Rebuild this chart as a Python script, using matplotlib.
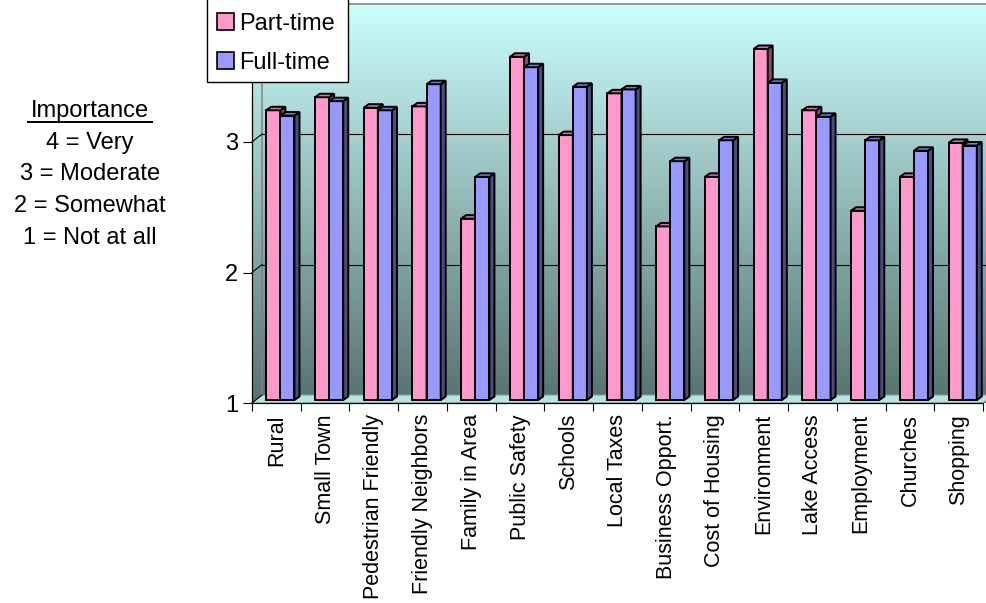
import numpy as np
import matplotlib
matplotlib.use("Agg")
import matplotlib.pyplot as plt
from matplotlib.patches import Polygon, Rectangle
from matplotlib.lines import Line2D
from matplotlib.colors import LinearSegmentedColormap

plt.rcParams['font.family'] = ['Liberation Sans', 'DejaVu Sans']

# ---- data -------------------------------------------------------------
categories = ["Rural", "Small Town", "Pedestrian Friendly", "Friendly Neighbors",
              "Family in Area", "Public Safety", "Schools", "Local Taxes",
              "Business Opport.", "Cost of Housing", "Environment", "Lake Access",
              "Employment", "Churches", "Shopping"]
part_time = [3.22, 3.32, 3.24, 3.25, 2.39, 3.63, 3.03, 3.35,
             2.33, 2.71, 3.69, 3.22, 2.45, 2.71, 2.97]
full_time = [3.18, 3.29, 3.22, 3.42, 2.71, 3.55, 3.40, 3.38,
             2.83, 2.99, 3.43, 3.17, 2.99, 2.91, 2.95]
series_names = ["Part-time", "Full-time"]
y_ticks = [1, 2, 3]
key_title = "Importance"
key_lines = ["4 = Very", "3 = Moderate", "2 = Somewhat", "1 = Not at all"]

# ---- figure / helpers (pixel layout) ---------------------------------
W, H, DPI = 986, 603, 100
fig = plt.figure(figsize=(W / DPI, H / DPI), dpi=DPI)
fig.patch.set_facecolor("white")


def fx(px):
    return px / W


def fy(py):
    return 1 - py / H


# front plane of the 3-D box, in pixels
L, R, B, T = 252, 983, 403, 11.5
ax = fig.add_axes([fx(L), fy(B), (R - L) / W, (B - T) / H])
n = len(categories)
ymin, ymax = 1, 4
ux = (R - L) / n              # pixels per category
uy = (B - T) / (ymax - ymin)  # pixels per value unit


def dx(px):
    return px / ux


def dy(px):
    return px / uy


WALL = (10, 8)     # depth of back wall
MID = (4, 3)       # bar front face offset from front plane
BAR_D = (5, 3.5)   # depth of each bar

wx, wy = dx(WALL[0]), dy(WALL[1])

# ---- back / side walls with gradient ---------------------------------
grad = np.linspace(0, 1, 256)[:, None]
cmap = LinearSegmentedColormap.from_list("wall", ["#CCFFFF", "#577270"])
im = ax.imshow(grad, cmap=cmap, aspect="auto", origin="upper",
               extent=(0, n + wx, ymin, ymax + wy), zorder=0,
               interpolation="bilinear")
im.set_clip_on(False)

# floor
floor = Polygon([(0, ymin), (n, ymin), (n + wx, ymin + wy), (wx, ymin + wy)],
                closed=True, facecolor="#B3E6E2", edgecolor="#7F9F9C",
                lw=0.8, zorder=1, clip_on=False)
ax.add_patch(floor)

# wall edges
edge_kw = dict(color="#808080", lw=1.1, zorder=1.2, clip_on=False)
ax.plot([wx, wx], [ymin + wy, ymax + wy], **edge_kw)
ax.plot([wx, n + wx], [ymax + wy, ymax + wy], **edge_kw)
ax.plot([0, wx], [ymax, ymax + wy], **edge_kw)

# gridlines on back wall + side wall
for g in y_ticks[1:]:
    ax.plot([wx, n + wx], [g + wy, g + wy], color="black", lw=0.8,
            zorder=1.5, clip_on=False)
    ax.plot([0, wx], [g, g + wy], color="black", lw=0.8,
            zorder=1.5, clip_on=False)
ax.plot([0, wx], [ymin, ymin + wy], color="black", lw=0.8, zorder=1.5,
        clip_on=False)

# ---- 3-D columns -------------------------------------------------------
w = 0.29
xc = np.arange(n) + 0.5
mx, my = dx(MID[0]), dy(MID[1])
bx, by = dx(BAR_D[0]), dy(BAR_D[1])
bar_lw = 1.4

styles = [
    (part_time, -w, "#FF99CC", "#CC77A0", "#8C4A6B", 3),
    (full_time, 0.0, "#9999FF", "#7777CC", "#4C4C80", 4),
]
for (vals, off, c_front, c_top, c_side, z), name in zip(styles, series_names):
    vals = np.asarray(vals)
    x0s = xc + off + mx
    ax.bar(x0s, vals - ymin, width=w, bottom=ymin + my, align="edge",
           color=c_front, edgecolor="black", lw=bar_lw, zorder=z, label=name)
    for x0, v in zip(x0s, vals):
        top = Polygon([(x0, v + my), (x0 + w, v + my),
                       (x0 + w + bx, v + my + by), (x0 + bx, v + my + by)],
                      closed=True, facecolor=c_top, edgecolor="black",
                      lw=bar_lw, zorder=z, joinstyle="miter")
        side = Polygon([(x0 + w, ymin + my), (x0 + w + bx, ymin + my + by),
                        (x0 + w + bx, v + my + by), (x0 + w, v + my)],
                       closed=True, facecolor=c_side, edgecolor="black",
                       lw=bar_lw, zorder=z, joinstyle="miter")
        ax.add_patch(side)
        ax.add_patch(top)

ax.set_xlim(0, n)
ax.set_ylim(ymin, ymax)

# ---- axes, ticks ------------------------------------------------------
for s in ("top", "right"):
    ax.spines[s].set_visible(False)
for s in ("left", "bottom"):
    ax.spines[s].set_color("black")
    ax.spines[s].set_linewidth(0.9)
    ax.spines[s].set_zorder(5)

ax.set_yticks(y_ticks)
ax.set_yticklabels([str(t) for t in y_ticks], fontsize=17)
ax.tick_params(axis="y", length=6.5, width=0.8, pad=3.6, colors="black")

ax.set_xticks(np.arange(n + 1), minor=True)
ax.set_xticks(xc)
ax.set_xticklabels(categories, rotation=90, fontsize=15.5, va="top", ha="center")
ax.tick_params(axis="x", which="major", length=0, pad=8)
ax.tick_params(axis="x", which="minor", length=6, width=0.8, color="black")

# ---- legend box ---------------------------------------------------------
fig.add_artist(Rectangle((fx(207), fy(81.5)), (348 - 207) / W, 84 / H,
                         transform=fig.transFigure, facecolor="white",
                         edgecolor="black", lw=1.0, zorder=6))
for (vals, off, c_front, c_top, c_side, z), name, yc in zip(styles, series_names, (21, 60.5)):
    fig.add_artist(Rectangle((fx(217), fy(yc + 8.5)), 17 / W, 17 / H,
                             transform=fig.transFigure, facecolor=c_front,
                             edgecolor="black", lw=1.2, zorder=7))
    fig.text(fx(239), fy(yc), name, fontsize=17, ha="left",
             va="center_baseline", zorder=8)

# ---- importance key -----------------------------------------------------
fig.text(fx(90), fy(108), key_title, fontsize=17, ha="center",
         va="center_baseline")
fig.add_artist(Line2D([fx(28), fx(152)], [fy(122), fy(122)],
                      transform=fig.transFigure, color="black", lw=1.4))
for k, line in enumerate(key_lines):
    fig.text(fx(90), fy(140 + 32 * k), line, fontsize=17, ha="center",
             va="center_baseline")

fig.savefig("out.png", dpi=DPI)
